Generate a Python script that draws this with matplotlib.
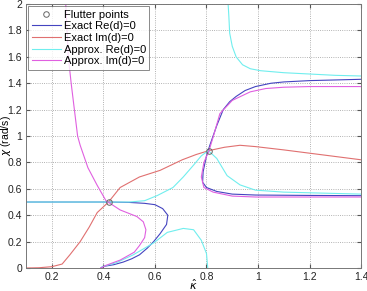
import matplotlib
matplotlib.use('Agg')
import matplotlib.pyplot as plt

plt.rcParams['font.family'] = ['Liberation Sans', 'DejaVu Sans']

# flutter points
flutter_k = [0.42, 0.81]
flutter_chi = [0.50, 0.89]

# Exact Re(d)=0
exact_re_a_k = [0.10, 0.42, 0.50, 0.56, 0.60, 0.63, 0.65, 0.645, 0.62, 0.595, 0.57, 0.54, 0.51, 0.477, 0.44, 0.40, 0.39]
exact_re_a_chi = [0.50, 0.50, 0.497, 0.49, 0.48, 0.45, 0.40, 0.33, 0.26, 0.20, 0.15, 0.10, 0.07, 0.045, 0.025, 0.012, 0.0]
exact_re_b_k = [1.40, 1.20, 0.99, 0.90, 0.84, 0.80, 0.785, 0.787, 0.80, 0.813, 0.84, 0.865, 0.89, 0.915, 0.95, 0.99, 1.05, 1.10, 1.20, 1.40]
exact_re_b_chi = [0.548, 0.55, 0.553, 0.56, 0.58, 0.61, 0.65, 0.73, 0.85, 0.93, 1.08, 1.20, 1.26, 1.30, 1.345, 1.375, 1.40, 1.41, 1.42, 1.43]

# Exact Im(d)=0
exact_im_k = [0.10, 0.15, 0.20, 0.24, 0.27, 0.31, 0.345, 0.376, 0.42, 0.465, 0.54, 0.62, 0.706, 0.76, 0.81, 0.87, 0.93, 0.99, 1.10, 1.20, 1.30, 1.40]
exact_im_chi = [0.0, 0.002, 0.01, 0.03, 0.10, 0.20, 0.31, 0.42, 0.50, 0.61, 0.69, 0.74, 0.82, 0.86, 0.89, 0.915, 0.93, 0.92, 0.895, 0.87, 0.845, 0.82]

# Approx. Re(d)=0
approx_re_a_k = [0.10, 0.42, 0.50, 0.56, 0.61, 0.67, 0.71, 0.75, 0.78, 0.807, 0.84, 0.88, 0.93, 0.99, 1.10, 1.20, 1.40]
approx_re_a_chi = [0.50, 0.50, 0.50, 0.51, 0.55, 0.61, 0.69, 0.78, 0.85, 0.89, 0.83, 0.70, 0.63, 0.59, 0.575, 0.57, 0.56]
approx_re_b_k = [0.395, 0.45, 0.516, 0.595, 0.648, 0.71, 0.75, 0.78, 0.80, 0.805]
approx_re_b_chi = [0.01, 0.04, 0.10, 0.19, 0.27, 0.30, 0.29, 0.21, 0.11, 0.0]
approx_re_c_k = [0.884, 0.887, 0.89, 0.90, 0.915, 0.94, 0.97, 1.01, 1.10, 1.20, 1.30, 1.40]
approx_re_c_chi = [2.0, 1.90, 1.78, 1.68, 1.60, 1.54, 1.51, 1.495, 1.48, 1.47, 1.46, 1.455]

# Approx. Im(d)=0
approx_im_a_k = [0.254, 0.264, 0.275, 0.30, 0.31, 0.34, 0.375, 0.41, 0.465, 0.53, 0.555, 0.565, 0.56, 0.54, 0.52, 0.465, 0.41, 0.39]
approx_im_a_chi = [2.0, 1.60, 1.40, 1.00, 0.93, 0.76, 0.63, 0.51, 0.44, 0.39, 0.35, 0.29, 0.23, 0.17, 0.12, 0.06, 0.02, 0.0]
approx_im_b_k = [1.40, 1.20, 0.99, 0.90, 0.826, 0.79, 0.78, 0.79, 0.81, 0.83, 0.852, 0.90, 0.97, 1.03, 1.10, 1.20, 1.40]
approx_im_b_chi = [0.538, 0.538, 0.538, 0.545, 0.575, 0.61, 0.69, 0.80, 0.89, 1.02, 1.17, 1.27, 1.335, 1.36, 1.37, 1.375, 1.375]

c_blue = '#4444c0'
c_red = '#e07070'
c_cyan = '#70eeee'
c_mag = '#e060e0'
lw = 0.8

fig = plt.figure(figsize=(3.67, 2.91), dpi=100)
ax = fig.add_axes([0.071, 0.079, 0.913, 0.907])

ax.plot(flutter_k, flutter_chi, 'o', ms=4, mfc='none', mec='#666666', mew=0.7, label='Flutter points', zorder=5)
ax.plot(exact_re_a_k, exact_re_a_chi, color=c_blue, lw=lw, label='Exact Re(d)=0')
ax.plot(exact_re_b_k, exact_re_b_chi, color=c_blue, lw=lw)
ax.plot(exact_im_k, exact_im_chi, color=c_red, lw=lw, label='Exact Im(d)=0')
ax.plot(approx_re_a_k, approx_re_a_chi, color=c_cyan, lw=lw, label='Approx. Re(d)=0')
ax.plot(approx_re_b_k, approx_re_b_chi, color=c_cyan, lw=lw)
ax.plot(approx_re_c_k, approx_re_c_chi, color=c_cyan, lw=lw)
ax.plot(approx_im_a_k, approx_im_a_chi, color=c_mag, lw=lw, label='Approx. Im(d)=0')
ax.plot(approx_im_b_k, approx_im_b_chi, color=c_mag, lw=lw)

ax.set_xlim(0.1, 1.4)
ax.set_ylim(0, 2)
ax.set_xticks([0.2, 0.4, 0.6, 0.8, 1.0, 1.2, 1.4])
ax.set_xticklabels(['0.2', '0.4', '0.6', '0.8', '1', '1.2', '1.4'])
ax.set_yticks([0, 0.2, 0.4, 0.6, 0.8, 1.0, 1.2, 1.4, 1.6, 1.8, 2.0])
ax.set_yticklabels(['0', '0.2', '0.4', '0.6', '0.8', '1', '1.2', '1.4', '1.6', '1.8', '2'])
ax.grid(True, ls=':', color='#999999', lw=0.6)
ax.tick_params(direction='in', top=True, right=True, labelsize=7.5, length=3, colors='#555555', labelcolor='#222222', pad=3)
for s in ax.spines.values():
    s.set_color('#777777')
    s.set_linewidth(0.7)

ax.set_xlabel(r'$\hat{\kappa}$', fontsize=8, va='top')
ax.xaxis.set_label_coords(0.5, -0.038)
ax.set_ylabel(r'$\chi$ (rad/s)', fontsize=7.5, va='center')
ax.yaxis.set_label_coords(-0.06, 0.5)

leg = ax.legend(loc='upper left', fontsize=8, frameon=True, fancybox=False, handlelength=2.6,
                borderpad=0.3, labelspacing=0.15, handletextpad=0.3, borderaxespad=0.2)
leg.get_frame().set_edgecolor('#555555')
leg.get_frame().set_linewidth(0.6)

fig.savefig('out.png', dpi=100)
